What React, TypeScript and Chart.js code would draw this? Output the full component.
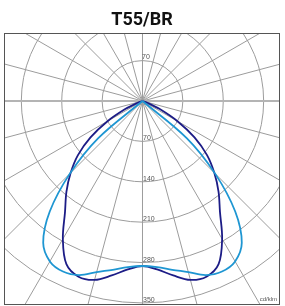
import { useEffect, useRef } from "react";
import { Chart, registerables } from "chart.js";

Chart.register(...registerables);

const TITLE = "T55/BR";
const UNIT_LABEL = "cd/klm";

// gamma angle from nadir (degrees)
const gammaDeg = [0, 5, 10, 15, 20, 25, 30, 35, 40, 45, 50, 55, 60, 65, 70, 75];
// C0-C180 plane (dark curve), cd/klm
const planeC0 = [286, 293, 307, 321, 324, 312, 276, 234, 205, 176, 146, 110, 70, 33, 10, 0];
// C90-C270 plane (light curve), cd/klm
const planeC90 = [286, 289, 297, 307, 321, 326, 321, 300, 250, 178, 100, 0, 0, 0, 0, 0];

const ringValues = [70, 140, 210, 280, 350];
const topRingLabels = [70];
const spokeStepDeg = 15;

const X_MIN = -240.0;
const X_MAX = 238.3;
const Y_MIN = -117.85;
const Y_MAX = 353.55;

function polarCurve(values: number[]) {
  let last = values.length - 1;
  for (let i = 1; i < values.length; i++) {
    if (values[i] === 0) {
      last = i;
      break;
    }
  }
  const pts: { x: number; y: number }[] = [];
  for (let i = last; i >= 0; i--) {
    const g = (gammaDeg[i] * Math.PI) / 180;
    pts.push({ x: -values[i] * Math.sin(g), y: values[i] * Math.cos(g) });
  }
  for (let i = 1; i <= last; i++) {
    const g = (gammaDeg[i] * Math.PI) / 180;
    pts.push({ x: values[i] * Math.sin(g), y: values[i] * Math.cos(g) });
  }
  return pts;
}

const polarGrid = {
  id: "polarGrid",
  beforeDatasetsDraw(chart: any) {
    const { ctx, chartArea: a, scales } = chart;
    const xs = scales.x;
    const ys = scales.y;
    const cx = xs.getPixelForValue(0);
    const cy = ys.getPixelForValue(0);
    const k = (xs.getPixelForValue(100) - cx) / 100;
    ctx.save();
    ctx.beginPath();
    ctx.rect(a.left, a.top, a.right - a.left, a.bottom - a.top);
    ctx.clip();
    ctx.strokeStyle = "#9c9c9c";
    ctx.lineWidth = 1;
    ringValues.forEach((v) => {
      ctx.beginPath();
      ctx.arc(cx, cy, v * k, 0, Math.PI * 2);
      ctx.stroke();
    });
    for (let d = 0; d < 360; d += spokeStepDeg) {
      if (d === 90 || d === 270) continue;
      const r = (d * Math.PI) / 180;
      ctx.beginPath();
      ctx.moveTo(cx, cy);
      ctx.lineTo(cx + Math.sin(r) * 1000, cy + Math.cos(r) * 1000);
      ctx.stroke();
    }
    ctx.strokeStyle = "#b4b4b4";
    ctx.lineWidth = 2;
    ctx.beginPath();
    ctx.moveTo(a.left, cy);
    ctx.lineTo(a.right, cy);
    ctx.stroke();

    ctx.fillStyle = "#555";
    ctx.font = '7px "Liberation Sans", Arial, sans-serif';
    ctx.textAlign = "left";
    ctx.textBaseline = "alphabetic";
    ringValues.forEach((v) => {
      ctx.fillText(String(v), cx + 0.5, cy + v * k - 1);
    });
    topRingLabels.forEach((v) => {
      ctx.fillText(String(v), cx - 0.5, cy - v * k - 1.5);
    });
    ctx.restore();
  },
  afterDraw(chart: any) {
    const { ctx, chartArea: a } = chart;
    ctx.save();
    ctx.strokeStyle = "#555";
    ctx.lineWidth = 1;
    ctx.strokeRect(a.left + 0.5, a.top + 0.5, a.right - a.left - 1, a.bottom - a.top - 1);
    ctx.fillStyle = "#555";
    ctx.font = '6px "Liberation Sans", Arial, sans-serif';
    ctx.textAlign = "right";
    ctx.textBaseline = "alphabetic";
    ctx.fillText(UNIT_LABEL, a.right - 3, a.bottom - 4);
    ctx.restore();
  },
};

export default function App() {
  const ref = useRef<HTMLCanvasElement | null>(null);
  useEffect(() => {
    if (!ref.current) return;
    const chart = new Chart(ref.current, {
      type: "scatter",
      data: {
        datasets: [
          {
            label: "C90-C270",
            data: polarCurve(planeC90),
            showLine: true,
            borderColor: "#1e96d2",
            borderWidth: 1.8,
            pointRadius: 0,
            tension: 0.35,
            fill: false,
          },
          {
            label: "C0-C180",
            data: polarCurve(planeC0),
            showLine: true,
            borderColor: "#1c1c86",
            borderWidth: 1.8,
            pointRadius: 0,
            tension: 0.35,
            fill: false,
          },
        ],
      },
      options: {
        responsive: false,
        animation: false,
        events: [],
        layout: { padding: { left: 4, right: 5, top: 0, bottom: 1 } },
        scales: {
          x: { type: "linear", min: X_MIN, max: X_MAX, display: false },
          y: { type: "linear", min: Y_MIN, max: Y_MAX, reverse: true, display: false },
        },
        plugins: {
          legend: { display: false },
          tooltip: { enabled: false },
          title: {
            display: true,
            text: TITLE,
            color: "#111",
            font: { family: "Roboto, 'Liberation Sans', Arial, sans-serif", size: 18, weight: "bold" },
            padding: { top: 9.5, bottom: 1.9 },
          },
        },
      },
      plugins: [polarGrid],
    });
    return () => chart.destroy();
  }, []);
  return (
    <div style={{ position: "fixed", left: 0, top: 0, width: 285, height: 306, background: "#fff" }}>
      <canvas ref={ref} width={285} height={306} style={{ display: "block" }} />
    </div>
  );
}
